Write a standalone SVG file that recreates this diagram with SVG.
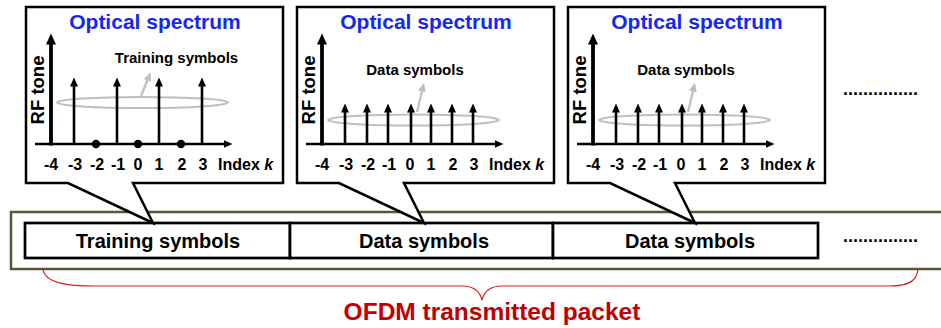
<svg xmlns="http://www.w3.org/2000/svg" width="941" height="328" viewBox="0 0 941 328">
<style>
  text { font-family: "Liberation Sans", Arial, sans-serif; font-weight: bold; fill: #000; }
  .title { font-size: 21px; fill: #1428f5; text-anchor: middle; }
  .rf { font-size: 18.5px; text-anchor: middle; }
  .idx { font-size: 16px; text-anchor: middle; }
  .idxk { font-size: 16px; }
  .sym { font-size: 15px; text-anchor: middle; }
  .cell { font-size: 20px; text-anchor: middle; }
  .pkt { font-size: 24.5px; fill: #c00000; text-anchor: middle; }
  .dots { font-size: 18px; }
  .callout { fill: #fff; stroke: #000; stroke-width: 2.5; stroke-linejoin: miter; }
  .yaxis { stroke: #000; stroke-width: 3.8; marker-end: url(#headBig); }
  .xaxis { stroke: #000; stroke-width: 2.7; marker-end: url(#head); }
  .stem { stroke: #000; stroke-width: 2.6; marker-end: url(#head); }
  .ring { fill: none; stroke: #bfbfbf; stroke-width: 2; }
  .ptr { stroke: #bfbfbf; stroke-width: 2.2; marker-end: url(#headGray); }
  .cellbox { fill: #fff; stroke: #000; stroke-width: 2.7; }
  .frame { fill: #fff; stroke: #5c5538; stroke-width: 2.5; }
  .brace { fill: none; stroke: #d42020; stroke-width: 1.2; }
</style>
<defs>
  <marker id="head" markerUnits="userSpaceOnUse" markerWidth="9" markerHeight="9" viewBox="0 0 9 9" refX="0.5" refY="4.5" orient="auto">
    <path d="M0,0.5 L9,4.5 L0,8.5 Z" fill="#000"/>
  </marker>
  <marker id="headBig" markerUnits="userSpaceOnUse" markerWidth="11" markerHeight="11" viewBox="0 0 11 11" refX="0.5" refY="5.5" orient="auto">
    <path d="M0,0.5 L11,5.5 L0,10.5 Z" fill="#000"/>
  </marker>
  <marker id="headGray" markerUnits="userSpaceOnUse" markerWidth="9" markerHeight="9" viewBox="0 0 9 9" refX="0.5" refY="4.5" orient="auto">
    <path d="M0,0.5 L9,4.5 L0,8.5 Z" fill="#bfbfbf"/>
  </marker>
</defs>

<g id="packet">
  <rect class="frame" x="11" y="212" width="960" height="57"/>
  <g id="cell-training">
    <rect class="cellbox" x="25" y="223" width="265" height="35"/>
    <text class="cell" x="158" y="248">Training symbols</text>
  </g>
  <g id="cell-data1">
    <rect class="cellbox" x="290" y="223" width="263" height="35"/>
    <text class="cell" x="424" y="248">Data symbols</text>
  </g>
  <g id="cell-data2">
    <rect class="cellbox" x="553" y="223" width="265" height="35"/>
    <text class="cell" x="690" y="248">Data symbols</text>
  </g>
  <text class="dots" x="843" y="242">...............</text>
</g>

<g id="packet-label">
  <path class="brace" d="M43,269 C45,284 70,286 95,286 L462,286 C474,286 480,292 482,300 C484,292 490,286 502,286 L890,286 C910,286 917,280 918,269"/>
  <text class="pkt" x="492" y="320">OFDM transmitted packet</text>
</g>

<g id="panel-training">
  <path class="callout" d="M26,7 H283 V183 H133 L153,223 L68,183 H26 Z"/>
  <text class="title" x="155" y="29">Optical spectrum</text>
  <text class="rf" transform="translate(44,90) rotate(-90)">RF tone</text>
  <ellipse class="ring" cx="142.5" cy="102.5" rx="85.5" ry="5.5"/>
  <line class="yaxis" x1="51" y1="145.5" x2="51" y2="44"/>
  <line class="xaxis" x1="35" y1="144" x2="224" y2="144"/>
  <line class="stem" x1="74" y1="144" x2="74" y2="86"/>
  <line class="stem" x1="117" y1="144" x2="117" y2="86"/>
  <line class="stem" x1="159" y1="144" x2="159" y2="86"/>
  <line class="stem" x1="202" y1="144" x2="202" y2="86"/>
  <circle cx="96" cy="144" r="4.2"/>
  <circle cx="138" cy="144" r="4.2"/>
  <circle cx="181" cy="144" r="4.2"/>
  <line class="ptr" x1="141" y1="96" x2="147.5" y2="80"/>
  <text class="sym" x="176.5" y="63">Training symbols</text>
  <text class="idx" x="51" y="170">-4</text>
  <text class="idx" x="75" y="170">-3</text>
  <text class="idx" x="97" y="170">-2</text>
  <text class="idx" x="118" y="170">-1</text>
  <text class="idx" x="138" y="170">0</text>
  <text class="idx" x="159" y="170">1</text>
  <text class="idx" x="182" y="170">2</text>
  <text class="idx" x="203" y="170">3</text>
  <text class="idxk" x="218" y="170">Index <tspan font-style="italic">k</tspan></text>
</g>

<g id="panel-data1" transform="translate(271,0)">
  <path class="callout" d="M26,7 H283 V183 H133 L153,223 L68,183 H26 Z"/>
  <text class="title" x="155" y="29">Optical spectrum</text>
  <text class="rf" transform="translate(44,90) rotate(-90)">RF tone</text>
  <ellipse class="ring" cx="142.5" cy="120" rx="85.5" ry="5.5"/>
  <line class="yaxis" x1="51" y1="145.5" x2="51" y2="44"/>
  <line class="xaxis" x1="35" y1="144" x2="224" y2="144"/>
  <line class="stem" x1="74" y1="144" x2="74" y2="112"/>
  <line class="stem" x1="96" y1="144" x2="96" y2="112"/>
  <line class="stem" x1="117" y1="144" x2="117" y2="112"/>
  <line class="stem" x1="140" y1="144" x2="140" y2="112"/>
  <line class="stem" x1="160" y1="144" x2="160" y2="112"/>
  <line class="stem" x1="181" y1="144" x2="181" y2="112"/>
  <line class="stem" x1="202" y1="144" x2="202" y2="112"/>
  <line class="ptr" x1="146" y1="112" x2="151" y2="91"/>
  <text class="sym" x="144" y="75">Data symbols</text>
  <text class="idx" x="51" y="170">-4</text>
  <text class="idx" x="75" y="170">-3</text>
  <text class="idx" x="97" y="170">-2</text>
  <text class="idx" x="118" y="170">-1</text>
  <text class="idx" x="139" y="170">0</text>
  <text class="idx" x="160" y="170">1</text>
  <text class="idx" x="182" y="170">2</text>
  <text class="idx" x="203" y="170">3</text>
  <text class="idxk" x="218" y="170">Index <tspan font-style="italic">k</tspan></text>
</g>

<g id="panel-data2" transform="translate(542,0)">
  <path class="callout" d="M26,7 H283 V183 H133 L153,223 L68,183 H26 Z"/>
  <text class="title" x="155" y="29">Optical spectrum</text>
  <text class="rf" transform="translate(44,90) rotate(-90)">RF tone</text>
  <ellipse class="ring" cx="142.5" cy="120" rx="85.5" ry="5.5"/>
  <line class="yaxis" x1="51" y1="145.5" x2="51" y2="44"/>
  <line class="xaxis" x1="35" y1="144" x2="224" y2="144"/>
  <line class="stem" x1="74" y1="144" x2="74" y2="112"/>
  <line class="stem" x1="96" y1="144" x2="96" y2="112"/>
  <line class="stem" x1="117" y1="144" x2="117" y2="112"/>
  <line class="stem" x1="140" y1="144" x2="140" y2="112"/>
  <line class="stem" x1="160" y1="144" x2="160" y2="112"/>
  <line class="stem" x1="181" y1="144" x2="181" y2="112"/>
  <line class="stem" x1="202" y1="144" x2="202" y2="112"/>
  <line class="ptr" x1="146" y1="112" x2="151" y2="91"/>
  <text class="sym" x="144" y="75">Data symbols</text>
  <text class="idx" x="51" y="170">-4</text>
  <text class="idx" x="75" y="170">-3</text>
  <text class="idx" x="97" y="170">-2</text>
  <text class="idx" x="118" y="170">-1</text>
  <text class="idx" x="139" y="170">0</text>
  <text class="idx" x="160" y="170">1</text>
  <text class="idx" x="182" y="170">2</text>
  <text class="idx" x="203" y="170">3</text>
  <text class="idxk" x="218" y="170">Index <tspan font-style="italic">k</tspan></text>
</g>

<text class="dots" x="843" y="95">...............</text>
</svg>
